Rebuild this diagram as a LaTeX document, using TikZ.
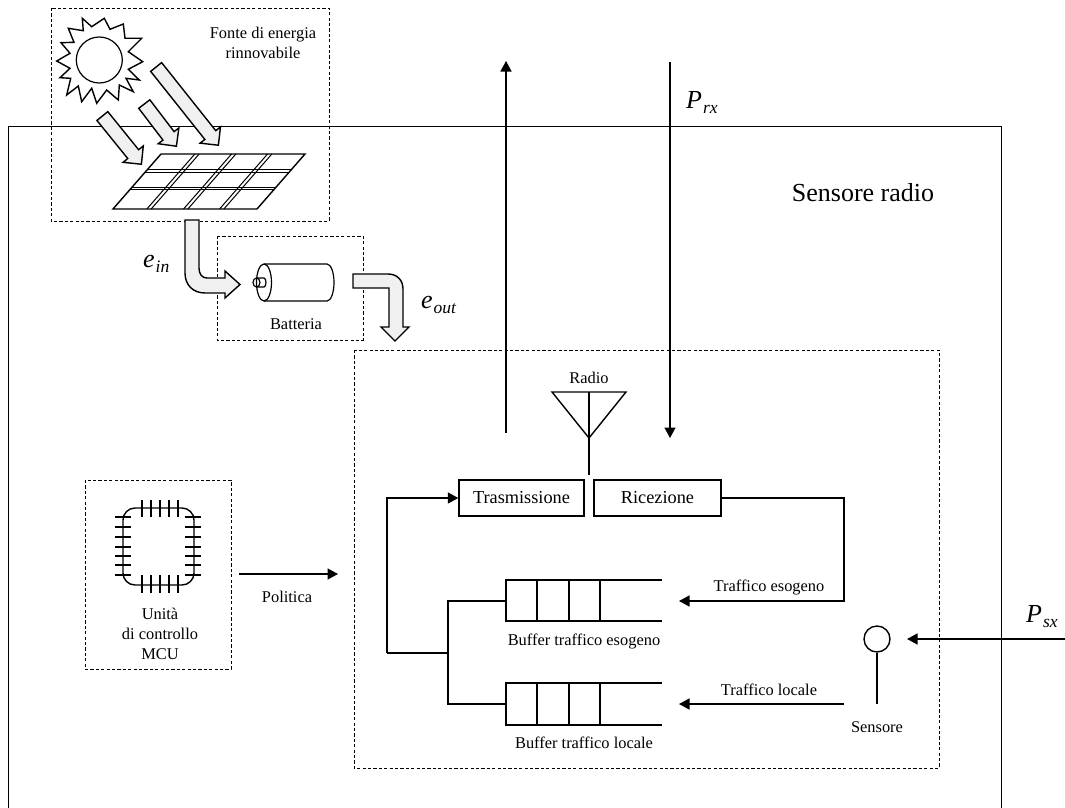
\documentclass[tikz,border=0pt]{standalone}
\usepackage{fontspec}
\setmainfont{Liberation Serif}
\usetikzlibrary{arrows.meta,shapes.geometric,shapes.arrows,calc}
\newcommand{\grandezza}[2]{{\fontsize{26}{28}\selectfont\itshape #1\kern1pt\raisebox{-5pt}{\fontsize{17.5}{18}\selectfont #2}}}
\tikzset{
  etichetta/.style={font=\fontsize{16.4}{20}\selectfont,align=center,inner sep=0pt},
  simbolo/.style={anchor=base west,inner sep=0pt},
  riquadro/.style={draw,dashed,line width=0.9pt,dash pattern=on 3.2pt off 2.2pt},
  blocco/.style={draw,line width=1.4pt,minimum height=36pt,inner sep=0pt,font=\fontsize{18.3}{22}\selectfont},
  linea/.style={line width=1.4pt},
  freccia/.style={line width=1.4pt,-{Triangle[length=10.5pt,width=11pt]}},
  energia/.style={draw,line width=1.4pt,fill=black!6,line join=miter},
  raggio/.style={energia,single arrow,anchor=tip,single arrow head extend=6pt,inner ysep=6.3pt,inner xsep=0pt,minimum width=24pt},
}
\begin{document}
\begin{tikzpicture}[x=1pt,y=-1pt]
\useasboundingbox (0,0) rectangle (1065,808);

% Sensore radio
\draw[line width=0.8pt] (8,808) -- (8,126) -- (1001,126) -- (1001,808);
\node[font=\fontsize{26}{28}\selectfont,inner sep=0pt] (titolo) at (863,193) {Sensore radio};

% riquadri tratteggiati
\draw[riquadro] (51,8) rectangle (329,221);
\draw[riquadro] (217,236) rectangle (363,340);
\draw[riquadro] (354,350) rectangle (939,768);
\draw[riquadro] (85,480) rectangle (231,669);

% sole
\draw[line width=1.4pt,line join=miter] (82.3,18.3) -- (91.7,26.7) -- (104.3,18.3) -- (110,29.3) -- (123.3,24) -- (125,38.3)
  -- (141.7,38.3) -- (128.3,51.7) -- (142.7,61.7) -- (128.3,69.3) -- (139.3,80) -- (126,78.3) -- (133.3,91.7) -- (119.3,85)
  -- (118.3,100) -- (106.7,90) -- (96.7,103.3) -- (91.7,88.3) -- (81.7,101.7) -- (78.3,86) -- (66.7,95) -- (70.7,78.3)
  -- (60,77.7) -- (70,68.3) -- (56.7,61) -- (70,53.3) -- (61,42.7) -- (74,42.3) -- (68.3,28.3) -- (83.3,30.7) -- cycle;
\node[draw,circle,minimum size=46pt,inner sep=0pt,line width=1.2pt] (sole) at (99.3,60) {};
\node[etichetta] (fonte) at (263,43) {Fonte di energia\\rinnovabile};

% raggi
\node[raggio,rotate=-51,minimum height=62pt] (raggioa) at (142,165) {};
\node[raggio,rotate=-52.7,minimum height=53pt] (raggiob) at (177,147) {};
\node[raggio,rotate=-51.5,minimum height=100pt] (raggioc) at (219,146) {};

% pannello
\coordinate (pa) at (161,154);
\coordinate (pb) at (305,154);
\coordinate (pc) at (257,209);
\coordinate (pd) at (113,209);
\draw[linea,fill=white] (pa) -- (pb) -- (pc) -- (pd) -- cycle;
\foreach \t in {0.28,0.33,0.6,0.65}
  \draw[line width=1pt] ($(pa)!\t!(pd)$) -- ($(pb)!\t!(pc)$);
\foreach \t in {0.235,0.265,0.49,0.52,0.74,0.77}
  \draw[line width=1pt] ($(pa)!\t!(pb)$) -- ($(pd)!\t!(pc)$);

% frecce di energia
\draw[energia] (185,220) -- (185,273) .. controls (185,285) and (193,293) .. (205,293) -- (225,293) -- (225,298) -- (240,284.5) -- (225,271) -- (225,278) -- (207,278) .. controls (202,278) and (199,274) .. (199,268) -- (199,220) -- cycle;
\draw[energia] (353,274) -- (388,274) .. controls (397,274) and (403,280) .. (403,289) -- (403,327) -- (409,327) -- (395,341) -- (381,327) -- (389,327) -- (389,288) -- (353,288) -- cycle;
\node[simbolo] (ein) at (143,267) {\grandezza{e}{in}};
\node[simbolo] (eout) at (421,308) {\grandezza{e}{out}};

% batteria
\draw[line width=1.2pt] (264,264) -- (327,264) arc[start angle=90,end angle=-90,x radius=7pt,y radius=18.5pt] -- (264,301);
\draw[line width=1.2pt] (264,282.5) ellipse[x radius=7.5pt,y radius=18.5pt];
\draw[line width=1.2pt] (256.5,282.5) ellipse[x radius=3.5pt,y radius=4.5pt];
\draw[line width=1.2pt] (256.5,278) -- (264,278) arc[start angle=90,end angle=-90,x radius=2pt,y radius=4.5pt] -- (256.5,287);
\node[etichetta] (batteria) at (296,324) {Batteria};

% MCU
\draw[linea,rounded corners=12pt] (123,508) rectangle (194,585);
\foreach \x in {142,151,160,169,178} {
  \draw[linea] (\x,500) -- (\x,517);
  \draw[linea] (\x,575) -- (\x,593);
}
\foreach \y in {517,527,537,547,556,565,575} {
  \draw[linea] (115,\y) -- (131,\y);
  \draw[linea] (185,\y) -- (201,\y);
}
\node[etichetta] (mcu) at (160,634) {Unità\\di controllo\\MCU};

% politica
\coordinate (politicaa) at (239,574);
\coordinate (politicab) at (338,574);
\draw[freccia] (politicaa) -- (politicab);
\node[etichetta] (politica) at (287,597) {Politica};

% radio
\coordinate (antalto) at (589,392);
\coordinate (antbasso) at (589,475);
\draw[linea] (antalto) -- (antbasso);
\draw[linea,line join=miter] (552,392) -- (626,392) -- (589,438) -- cycle;
\node[etichetta] (radio) at (589,378) {Radio};

\node[blocco,minimum width=125pt] (tx) at (521.5,498) {Trasmissione};
\node[blocco,minimum width=127pt] (rx) at (657.5,498) {Ricezione};

% potenze
\coordinate (txa) at (506,433);
\coordinate (txb) at (506,61);
\coordinate (rxa) at (670,62);
\coordinate (rxb) at (670,438);
\draw[freccia] (txa) -- (txb);
\draw[freccia] (rxa) -- (rxb);
\node[simbolo] (prx) at (686,108) {\grandezza{P}{rx}};
\coordinate (sxa) at (1065,639);
\coordinate (sxb) at (907,639);
\draw[freccia] (sxa) -- (sxb);
\node[simbolo] (psx) at (1026,622) {\grandezza{P}{sx}};

% buffer
\foreach \q/\a/\b in {esogeno/580/621,locale/683/725} {
  \draw[linea] (662,\a) -- (506,\a) -- (506,\b) -- (662,\b);
  \foreach \x in {537,569,600}
    \draw[linea] (\x,\a) -- (\x,\b);
}
\node[etichetta] (bufe) at (584,641) {Buffer traffico esogeno};
\node[etichetta] (bufl) at (584,743) {Buffer traffico locale};

% collegamenti
\coordinate (qe) at (506,601);
\coordinate (ql) at (506,704);
\coordinate (nodo) at (448,653);
\coordinate (rami) at (387,653);
\draw[linea] (qe) -- (448,601) -- (448,704) -- (ql);
\draw[linea] (nodo) -- (rami);
\draw[freccia] (rami) |- (tx.west);
\coordinate (ine) at (679,601);
\coordinate (inl) at (679,704);
\coordinate (svolta) at (844,704);
\draw[freccia] (rx.east) -| (844,601) -- (ine);
\draw[freccia] (svolta) -- (inl);
\node[etichetta] (trafe) at (769,587) {Traffico esogeno};
\node[etichetta] (trafl) at (769,690) {Traffico locale};

% sensore
\node[draw,circle,minimum size=26pt,inner sep=0pt,line width=1.4pt] (sens) at (877,639) {};
\coordinate (sensb) at (877,704);
\draw[linea] (sens) -- (sensb);
\node[etichetta] (sensore) at (877,727) {Sensore};

\end{tikzpicture}
\end{document}
